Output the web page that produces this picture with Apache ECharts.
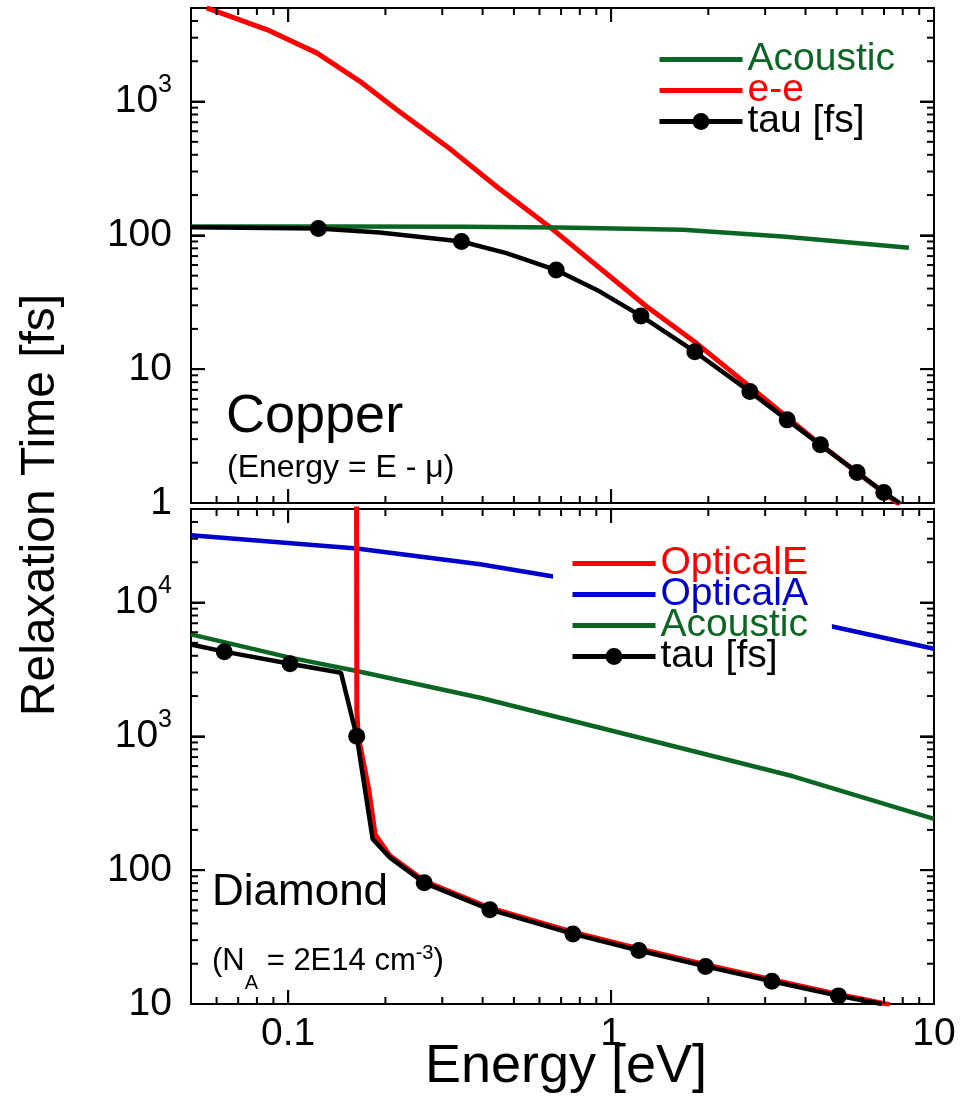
<!DOCTYPE html>
<html><head><meta charset="utf-8">
<script src="https://cdn.jsdelivr.net/npm/echarts@6/dist/echarts.min.js"></script>
<style>html,body{margin:0;padding:0;background:#fff}#c{width:972px;height:1108px}</style>
</head><body><div id="c"></div>
<script>
// ---------------- DATA ----------------
// Copper panel (Energy = E - mu)
const cuAcousticE = [0.05, 0.15, 0.35, 0.69, 1.67, 3.4, 5.5, 8.36];
const cuAcousticTau = [116.5, 116.5, 116, 114.6, 110, 98, 88.5, 80.7];
const cuEeE = [0.0559, 0.0858, 0.1225, 0.1667, 0.217, 0.310, 0.4416, 0.662, 1.288, 1.84, 2.69, 3.49, 4.53, 5.75, 7.83];
const cuEeTau = [5012, 3450, 2310, 1416, 869, 462, 232, 110, 29.4, 15.6, 7.41, 4.42, 2.64, 1.71, 0.97];
const cuTauE = [0.05, 0.124, 0.192, 0.344, 0.474, 0.676, 0.923, 1.237, 1.817, 2.69, 3.51, 4.45, 5.78, 6.99, 7.83];
const cuTau = [114.8, 112.7, 105, 90, 73.7, 55, 38, 25.0, 13.5, 6.80, 4.18, 2.72, 1.69, 1.20, 1.0];
const cuTauMarked = [0, 1, 0, 1, 0, 1, 0, 1, 1, 1, 1, 1, 1, 1, 0];

// Diamond panel (N_A = 2E14 cm^-3)
const diOptAE = [0.05, 0.163, 0.393, 0.662, 4.76, 10];
const diOptA = [31840, 25300, 19300, 15640, 6670, 4520];
const diAcE = [0.05, 0.1013, 0.163, 0.393, 1.416, 3.66, 10];
const diAc = [5780, 3873, 3077, 1945, 895, 503, 242];
const diOptEE = [0.1628, 0.1631, 0.1648, 0.1776, 0.1858, 0.2066, 0.2438, 0.2638, 0.4213, 0.7616, 1.219, 1.961, 3.147, 5.06, 7.3];
const diOptE = [60000, 1590, 1000, 401, 185, 128, 95.5, 83, 52.2, 34.4, 25.9, 19.7, 15.2, 11.8, 9.9];
const diTauE = [0.05, 0.0634, 0.1013, 0.1457, 0.163, 0.1826, 0.2066, 0.2438, 0.2638, 0.4213, 0.7616, 1.219, 1.961, 3.147, 5.06, 6.9];
const diTau = [4860, 4295, 3490, 2990, 1000, 171, 124, 92.7, 80.4, 50.7, 33.4, 25.1, 19.1, 14.8, 11.5, 10.0];
const diTauMarked = [0, 1, 1, 0, 1, 0, 0, 0, 1, 1, 1, 1, 1, 1, 1, 0];

// axes ranges and tick values
const xRange = [0.05, 10];
const cuRange = [1, 5000];
const diRange = [10, 50000];
const xMajor = [0.1, 1];
const xMinor = [0.06, 0.07, 0.08, 0.09, 0.2, 0.3, 0.4, 0.5, 0.6, 0.7, 0.8, 0.9, 2, 3, 4, 5, 6, 7, 8, 9];
const cuYMajor = [10, 100, 1000];
const cuYMinor = [2, 3, 4, 5, 6, 7, 8, 9, 20, 30, 40, 50, 60, 70, 80, 90, 200, 300, 400, 500, 600, 700, 800, 900, 2000, 3000, 4000];
const diYMajor = [100, 1000, 10000];
const diYMinor = [20, 30, 40, 50, 60, 70, 80, 90, 200, 300, 400, 500, 600, 700, 800, 900, 2000, 3000, 4000, 5000, 6000, 7000, 8000, 9000, 20000, 30000, 40000];

// ---------------- STYLE ----------------
const FONT = '"Liberation Sans", Arial, Helvetica, sans-serif';
const GREEN = '#0b6623', RED = '#ff0000', BLUE = '#0000cc', BLACK = '#000000';

const pairs = (xs, ys) => xs.map((x, i) => [x, ys[i]]);
const markedPairs = (xs, ys, m) => xs.map((x, i) => ({ value: [x, ys[i]], symbol: m[i] ? 'circle' : 'none' }));

function xAxisDef(grid, pos, labels) {
  return {
    type: 'log', logBase: 10, gridIndex: grid, position: pos, min: xRange[0], max: xRange[1],
    axisLine: { show: true, onZero: false, lineStyle: { color: '#000', width: 2 } },
    axisTick: { show: true, inside: true, length: 14, lineStyle: { color: '#000', width: 2 } },
    splitLine: { show: false },
    axisLabel: {
      show: labels, margin: 11, showMinLabel: false, color: '#000', fontSize: 39, fontFamily: FONT,
      formatter: v => v < 1 ? String(+v.toFixed(2)) : String(Math.round(v))
    }
  };
}
function yAxisDef(grid, pos, range, labels) {
  return {
    type: 'log', logBase: 10, gridIndex: grid, position: pos, min: range[0], max: range[1],
    axisLine: { show: true, onZero: false, lineStyle: { color: '#000', width: 2 } },
    axisTick: { show: true, inside: true, length: 14, lineStyle: { color: '#000', width: 2 } },
    splitLine: { show: false },
    axisLabel: {
      show: labels, margin: 19, showMaxLabel: false, color: '#000', fontSize: 39, fontFamily: FONT,
      formatter: v => {
        const e = Math.round(Math.log10(v));
        if (Math.abs(v - Math.pow(10, e)) > 1e-6 * v) return '';
        return e >= 3 ? '{b|10}{s|' + e + '}' : '{b|' + Math.round(v) + '}';
      },
      rich: {
        b: { fontSize: 39, fontFamily: FONT, color: '#000' },
        s: { fontSize: 25, fontFamily: FONT, color: '#000', padding: [0, 0, 32, 0] }
      }
    }
  };
}

function lineSeries(name, xi, yi, data, color, width, z) {
  return {
    type: 'line', name, xAxisIndex: xi, yAxisIndex: yi, data, symbol: 'none',
    lineStyle: { color, width }, itemStyle: { color }, z
  };
}
function tauSeries(xi, yi, data, z) {
  return {
    type: 'line', name: 'tau [fs]', xAxisIndex: xi, yAxisIndex: yi, data,
    symbol: 'circle', symbolSize: 17, showSymbol: true,
    lineStyle: { color: BLACK, width: 4.5 }, itemStyle: { color: BLACK }, z
  };
}

const legendText = { fontSize: 39, fontFamily: FONT, lineHeight: 32.7 };

const textGraphics = [
  { type: 'text', x: 41, y: 505, rotation: Math.PI / 2, silent: true,
    style: { text: 'Relaxation Time [fs]', fontSize: 48, fontFamily: FONT, fill: '#000', align: 'center', verticalAlign: 'middle' } },
  { type: 'text', x: 566, y: 1067, silent: true,
    style: { text: 'Energy [eV]', fontSize: 54, fontFamily: FONT, fill: '#000', align: 'center', verticalAlign: 'middle' } },
  { type: 'text', x: 226, y: 417, silent: true,
    style: { text: 'Copper', fontSize: 54, fontFamily: FONT, fill: '#000', align: 'left', verticalAlign: 'middle' } },
  { type: 'text', x: 227, y: 468, silent: true,
    style: { text: '(Energy = E - μ)', fontSize: 32, fontFamily: FONT, fill: '#000', align: 'left', verticalAlign: 'middle' } },
  { type: 'text', x: 212, y: 893, silent: true,
    style: { text: 'Diamond', fontSize: 44, fontFamily: FONT, fill: '#000', align: 'left', verticalAlign: 'middle' } },
  { type: 'text', x: 212, y: 961, silent: true,
    style: {
      text: '{m|(N}{sub|A}{m| = 2E14 cm}{sup|-3}{m|)}', align: 'left', verticalAlign: 'middle',
      rich: {
        m: { fontSize: 31, fontFamily: FONT, fill: '#000' },
        sub: { fontSize: 20, fontFamily: FONT, fill: '#000', padding: [45, 0, 0, 0] },
        sup: { fontSize: 20, fontFamily: FONT, fill: '#000', padding: [0, 0, 16, 0] }
      }
    } }
];

const option = {
  animation: false,
  backgroundColor: '#fff',
  grid: [
    { left: 191, top: 8, width: 743, height: 495, outerBoundsMode: 'none', containLabel: false },
    { left: 191, top: 509, width: 743, height: 495, outerBoundsMode: 'none', containLabel: false }
  ],
  xAxis: [xAxisDef(0, 'bottom', false), xAxisDef(0, 'top', false), xAxisDef(1, 'bottom', true), xAxisDef(1, 'top', false)],
  yAxis: [yAxisDef(0, 'left', cuRange, true), yAxisDef(0, 'right', cuRange, false), yAxisDef(1, 'left', diRange, true), yAxisDef(1, 'right', diRange, false)],
  legend: [
    {
      orient: 'vertical', left: 657, top: 40, padding: 0, itemGap: -8, itemWidth: 83, itemHeight: 21,
      selectedMode: false, lineStyle: { width: 5 }, textStyle: legendText,
      data: [
        { name: 'Acoustic', textStyle: { color: GREEN }, itemStyle: { opacity: 0 } },
        { name: 'e-e', textStyle: { color: RED }, itemStyle: { opacity: 0 } },
        { name: 'tau [fs]', textStyle: { color: BLACK } }
      ]
    },
    {
      orient: 'vertical', left: 553, top: 539, padding: [5, 24, 5, 17], itemGap: -8, itemWidth: 83, itemHeight: 21,
      backgroundColor: '#fff', selectedMode: false, lineStyle: { width: 5 }, textStyle: legendText,
      data: [
        { name: 'OpticalE', textStyle: { color: RED }, itemStyle: { opacity: 0 } },
        { name: 'OpticalA', textStyle: { color: BLUE }, itemStyle: { opacity: 0 } },
        { name: 'Acoustic', textStyle: { color: GREEN }, itemStyle: { opacity: 0 } },
        { name: 'tau [fs]', textStyle: { color: BLACK } }
      ]
    }
  ],
  series: [
    lineSeries('e-e', 0, 0, pairs(cuEeE, cuEeTau), RED, 5, 2),
    lineSeries('Acoustic', 0, 0, pairs(cuAcousticE, cuAcousticTau), GREEN, 4.5, 3),
    tauSeries(0, 0, markedPairs(cuTauE, cuTau, cuTauMarked), 4),
    lineSeries('OpticalA', 2, 2, pairs(diOptAE, diOptA), BLUE, 4.5, 2),
    lineSeries('Acoustic', 2, 2, pairs(diAcE, diAc), GREEN, 4.5, 2),
    lineSeries('OpticalE', 2, 2, pairs(diOptEE, diOptE), RED, 5, 3),
    tauSeries(2, 2, markedPairs(diTauE, diTau, diTauMarked), 4)
  ],
  graphic: textGraphics
};

const chart = echarts.init(document.getElementById('c'));
chart.setOption(option);

// Tick marks (inside, on all four sides of each panel), positioned via the chart's own axis scales
function tickLines(xi, yi, yRange, yMajor, yMinor) {
  const out = [];
  const px = v => chart.convertToPixel({ xAxisIndex: xi, yAxisIndex: yi }, v);
  const seg = (x1, y1, x2, y2) => out.push({ type: 'line', silent: true, z: 10,
    shape: { x1, y1, x2, y2 }, style: { stroke: '#000', lineWidth: 2 } });
  const yTicks = (vals, len) => vals.forEach(v => {
    const a = px([xRange[0], v]), b = px([xRange[1], v]);
    seg(a[0], a[1], a[0] + len, a[1]);
    seg(b[0] - len, b[1], b[0], b[1]);
  });
  const xTicks = (vals, len) => vals.forEach(v => {
    const a = px([v, yRange[0]]), b = px([v, yRange[1]]);
    seg(a[0], a[1], a[0], a[1] - len);
    seg(b[0], b[1], b[0], b[1] + len);
  });
  yTicks(yMajor, 14); yTicks(yMinor, 7);
  xTicks(xMajor, 14); xTicks(xMinor, 7);
  return out;
}
const ticks = tickLines(0, 0, cuRange, cuYMajor, cuYMinor).concat(tickLines(2, 2, diRange, diYMajor, diYMinor));
chart.setOption({ graphic: textGraphics.concat(ticks) });
</script>
</body></html>
